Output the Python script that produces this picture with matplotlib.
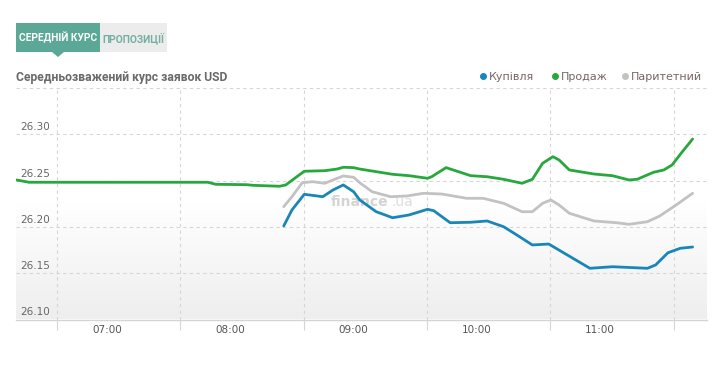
import matplotlib
matplotlib.use("Agg")
import matplotlib.pyplot as plt
import matplotlib.patches as mpatches
import matplotlib.transforms as mtrans
import numpy as np

# ---- data (time = minutes after midnight) ----
sell_t = [376, 382, 469, 473, 488, 491, 504, 507, 512, 516, 526, 532, 535, 540, 543,
          559, 567, 576, 578, 585, 597, 605, 613, 622, 627, 632, 637, 640, 645, 657,
          666, 674, 678, 686, 691, 695, 700, 705]
sell_v = [26.2507, 26.2482, 26.2482, 26.2460, 26.2456, 26.2449, 26.2439, 26.2453, 26.2536,
          26.2601, 26.2607, 26.2625, 26.2644, 26.2640, 26.2625, 26.2568, 26.2553, 26.2525,
          26.2542, 26.2640, 26.2553, 26.2542, 26.2514, 26.2471, 26.2514, 26.2687, 26.2758,
          26.2723, 26.2615, 26.2571, 26.2553, 26.2507, 26.2514, 26.2590, 26.2615, 26.2669,
          26.2812, 26.2949]

par_t = [506, 510, 515, 520, 526, 530, 535, 540, 543, 549, 558, 566, 574, 583, 595, 603,
         613, 622, 627, 632, 636, 640, 645, 657, 668, 674, 683, 689, 697, 705]
par_v = [26.2218, 26.2326, 26.2477, 26.2488, 26.2471, 26.2507, 26.2550, 26.2536, 26.2477,
         26.2380, 26.2326, 26.2334, 26.2363, 26.2355, 26.2309, 26.2309, 26.2255, 26.2164,
         26.2164, 26.2255, 26.2291, 26.2237, 26.2147, 26.2064, 26.2045, 26.2028, 26.2056,
         26.2118, 26.2237, 26.2363]

buy_t = [506, 510, 516, 525, 530, 535, 540, 543, 551, 559, 567, 576, 579, 587, 597, 605,
         613, 620, 627, 635, 644, 655, 666, 683, 687, 693, 699, 705]
buy_v = [26.2010, 26.2183, 26.2352, 26.2326, 26.2399, 26.2453, 26.2380, 26.2291, 26.2164,
         26.2099, 26.2129, 26.2190, 26.2175, 26.2045, 26.2050, 26.2064, 26.2002, 26.1905,
         26.1805, 26.1815, 26.1697, 26.1553, 26.1570, 26.1553, 26.1589, 26.1721, 26.1769,
         26.1783]

series_names = ["Купівля", "Продаж", "Паритетний"]
series_colors = ["#1a86b8", "#27a83c", "#c2c2c2"]

x_ticks = [420, 480, 540, 600, 660]
x_labels = ["07:00", "08:00", "09:00", "10:00", "11:00"]
x_grid = [395.7, 455.7, 515.7, 575.7, 635.7, 695.7]
y_ticks = [26.10, 26.15, 26.20, 26.25, 26.30]
y_labels = ["26.10", "26.15", "26.20", "26.25", "26.30"]

title = "Середньозважений курс заявок USD"
tab1 = "СЕРЕДНІЙ КУРС"
tab2 = "ПРОПОЗИЦІЇ"

W, H = 720, 367
fig = plt.figure(figsize=(W / 100, H / 100), dpi=100)
fig.patch.set_facecolor("white")

def fx(px):
    return px / W

def fy(py):
    return 1 - py / H

L, R, T, B = 16, 707, 88, 319.5
ax = fig.add_axes([fx(L), fy(B), fx(R) - fx(L), fy(T) - fy(B)])
xmin, xmax = 375.7, 712.0
ymin, ymax = 26.10, 26.35
ax.set_xlim(xmin, xmax)
ax.set_ylim(ymin, ymax)

# gradient background
g = np.linspace(0, 1, 256)
shade = np.clip(g / 0.5, 0, 1)
top_c = np.array([1.0, 1.0, 1.0])
bot_c = np.array([0xee, 0xee, 0xee]) / 255
img = bot_c[None, :] * (1 - shade[:, None]) + top_c[None, :] * shade[:, None]
img = img[:, None, :]
ax.imshow(img, extent=[xmin, xmax, ymin, ymax], origin="lower", aspect="auto", zorder=0)

for s in ["top", "right", "left"]:
    ax.spines[s].set_visible(False)
ax.spines["bottom"].set_color("#d4d4d4")
ax.spines["bottom"].set_linewidth(1.0)

# grid
for yv in [26.15, 26.20, 26.25, 26.30, 26.35]:
    ax.axhline(yv, color="#d6d6d6", lw=0.8, ls=(0, (3, 3)), zorder=1)
for xv in x_grid:
    ax.axvline(xv, color="#d6d6d6", lw=0.8, ls=(0, (3, 3)), zorder=1)

ax.set_xticks(x_grid)
ax.set_xticklabels([])
ax.tick_params(axis="x", length=7, color="#d6d6d6", width=0.8)
ax.set_yticks([])

for t, lab in zip(x_ticks, x_labels):
    ax.text(t, -0.025, lab, transform=ax.get_xaxis_transform(), ha="center", va="top",
            fontsize=7.5, color="#555555")

ytrans = mtrans.blended_transform_factory(ax.transAxes, ax.transData)
for yv, lab in zip(y_ticks, y_labels):
    ax.text(0.006, yv + 0.0022, lab, transform=ytrans, ha="left", va="bottom",
            fontsize=7.5, color="#666666", zorder=5)

# watermark
ax.text(0.456, 0.508, "finance", transform=ax.transAxes, fontsize=10, fontweight="bold",
        color="#d4d4d4", ha="left", va="center", zorder=2)
ax.text(0.543, 0.508, ".ua", transform=ax.transAxes, fontsize=10,
        color="#dedede", ha="left", va="center", zorder=2)

# series
ax.plot(par_t, par_v, color=series_colors[2], lw=2, solid_joinstyle="round",
        solid_capstyle="round", zorder=3)
ax.plot(buy_t, buy_v, color=series_colors[0], lw=2, solid_joinstyle="round",
        solid_capstyle="round", zorder=4)
ax.plot(sell_t, sell_v, color=series_colors[1], lw=2, solid_joinstyle="round",
        solid_capstyle="round", zorder=4)

# tabs / header
hdr = fig.add_axes([0, 0, 1, 1], facecolor="none")
hdr.set_xlim(0, W)
hdr.set_ylim(H, 0)
hdr.axis("off")
hdr.add_patch(mpatches.Rectangle((16, 23), 84, 29, color="#5aa895", lw=0))
hdr.add_patch(mpatches.Polygon([[52, 52], [64, 52], [58, 57]], closed=True,
                               color="#5aa895", lw=0))
hdr.add_patch(mpatches.Rectangle((100, 23), 67, 29, color="#ececec", lw=0))

narrow = ["Roboto", "DejaVu Sans"]
def fit_text(x, y, s, width_px, size, **kw):
    t = hdr.text(x, y, s, fontsize=size, **kw)
    fig.canvas.draw()
    bb = t.get_window_extent()
    if bb.width > width_px:
        t.set_fontsize(size * width_px / bb.width)
    return t

fit_text(58, 38, tab1, 78, 7.5, ha="center", va="center", fontweight="bold",
         color="white", family=narrow)
fit_text(133.5, 38, tab2, 62, 7.5, ha="center", va="center", fontweight="bold",
         color="#74b0a2", family=narrow)
fit_text(16, 77, title, 212, 10, ha="left", va="center", fontweight="bold",
         color="#6a6a6a", family=narrow)

# legend
leg_x = [483, 555, 625]
for xpos, name, col in zip(leg_x, series_names, series_colors):
    hdr.plot([xpos], [76], marker="o", ms=4, color=col, mec=col)
    hdr.text(xpos + 6, 76.5, name, ha="left", va="center", fontsize=8,
             color="#7a6565")

fig.savefig("out.png", dpi=100, facecolor="white")
